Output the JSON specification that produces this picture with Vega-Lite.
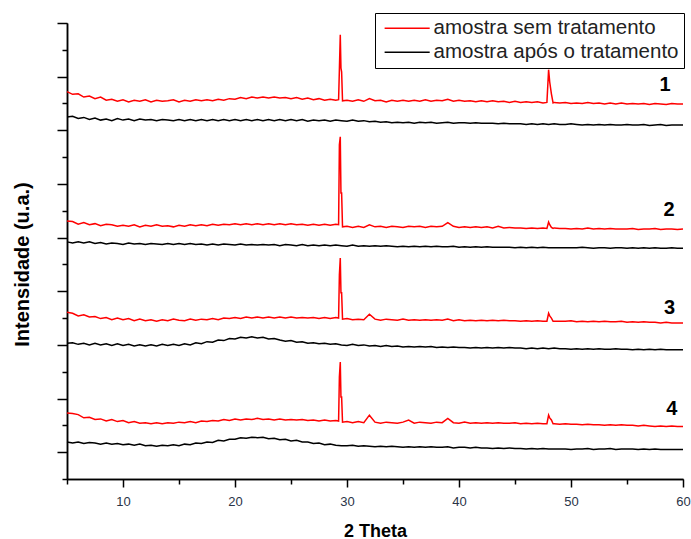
{
 "$schema": "https://vega.github.io/schema/vega-lite/v6.json",
 "width": 616, "height": 456,
 "autosize": {"type": "none"},
 "padding": {"left": 67, "top": 23, "right": 8, "bottom": 60},
 "background": "white",
 "config": {"view": {"stroke": null}, "font": "Liberation Sans"},
 "datasets": {
  "xrd": [
{"x":5,"a":672,"b":625,"c":431,"d":392,"e":261,"f":203,"g":73,"h":19},
{"x":5.5,"a":667,"b":626,"c":430,"d":390,"e":259,"f":204,"g":72,"h":17},
{"x":6,"a":668,"b":622,"c":425,"d":392,"e":254,"f":201,"g":70,"h":19},
{"x":6.5,"a":662,"b":624,"c":428,"d":390,"e":256,"f":203,"g":64,"h":16},
{"x":7,"a":664,"b":620,"c":424,"d":392,"e":252,"f":200,"g":65,"h":18},
{"x":7.5,"a":659,"b":623,"c":426,"d":389,"e":253,"f":203,"g":61,"h":17},
{"x":8,"a":662,"b":619,"c":422,"d":391,"e":249,"f":200,"g":62,"h":15},
{"x":8.5,"a":656,"b":621,"c":425,"d":388,"e":251,"f":202,"g":58,"h":17},
{"x":9,"a":658,"b":618,"c":424,"d":390,"e":247,"f":199,"g":61,"h":15},
{"x":9.5,"a":654,"b":622,"c":421,"d":389,"e":250,"f":202,"g":57,"h":16},
{"x":10,"a":657,"b":619,"c":423,"d":387,"e":247,"f":199,"g":59,"h":14},
{"x":10.5,"a":653,"b":621,"c":421,"d":390,"e":249,"f":201,"g":55,"h":15},
{"x":11,"a":656,"b":618,"c":424,"d":388,"e":245,"f":198,"g":57,"h":13},
{"x":11.5,"a":654,"b":621,"c":420,"d":389,"e":248,"f":200,"g":54,"h":15},
{"x":12,"a":657,"b":619,"c":423,"d":387,"e":245,"f":198,"g":55,"h":12},
{"x":12.5,"a":653,"b":620,"c":421,"d":389,"e":247,"f":200,"g":53,"h":13},
{"x":13,"a":656,"b":618,"c":424,"d":388,"e":244,"f":198,"g":55,"h":11},
{"x":13.5,"a":654,"b":620,"c":421,"d":387,"e":247,"f":201,"g":53,"h":13},
{"x":14,"a":655,"b":619,"c":422,"d":389,"e":245,"f":199,"g":55,"h":12},
{"x":14.5,"a":657,"b":618,"c":420,"d":387,"e":248,"f":201,"g":54,"h":14},
{"x":15,"a":653,"b":620,"c":423,"d":389,"e":246,"f":199,"g":56,"h":12},
{"x":15.5,"a":656,"b":618,"c":421,"d":387,"e":245,"f":202,"g":55,"h":15},
{"x":16,"a":654,"b":620,"c":424,"d":389,"e":248,"f":200,"g":57,"h":14},
{"x":16.5,"a":657,"b":618,"c":422,"d":387,"e":246,"f":204,"g":55,"h":17},
{"x":17,"a":655,"b":620,"c":424,"d":388,"e":248,"f":202,"g":58,"h":16},
{"x":17.5,"a":657,"b":618,"c":422,"d":386,"e":247,"f":206,"g":57,"h":19},
{"x":18,"a":655,"b":620,"c":425,"d":388,"e":249,"f":205,"g":59,"h":18},
{"x":18.5,"a":658,"b":618,"c":423,"d":386,"e":247,"f":209,"g":58,"h":22},
{"x":19,"a":656,"b":620,"c":425,"d":388,"e":250,"f":208,"g":61,"h":21},
{"x":19.5,"a":659,"b":618,"c":424,"d":387,"e":249,"f":212,"g":59,"h":24},
{"x":20,"a":658,"b":620,"c":426,"d":386,"e":251,"f":211,"g":62,"h":24},
{"x":20.5,"a":661,"b":618,"c":424,"d":388,"e":249,"f":214,"g":60,"h":27},
{"x":21,"a":659,"b":620,"c":426,"d":386,"e":252,"f":213,"g":62,"h":26},
{"x":21.5,"a":662,"b":618,"c":424,"d":387,"e":250,"f":215,"g":61,"h":28},
{"x":22,"a":660,"b":620,"c":426,"d":386,"e":252,"f":213,"g":63,"h":27},
{"x":22.5,"a":662,"b":618,"c":424,"d":387,"e":250,"f":214,"g":61,"h":28},
{"x":23,"a":660,"b":620,"c":426,"d":386,"e":252,"f":211,"g":62,"h":25},
{"x":23.5,"a":662,"b":618,"c":424,"d":387,"e":250,"f":212,"g":60,"h":26},
{"x":24,"a":660,"b":620,"c":426,"d":385,"e":252,"f":209,"g":62,"h":23},
{"x":24.5,"a":661,"b":618,"c":424,"d":387,"e":250,"f":207,"g":60,"h":24},
{"x":25,"a":659,"b":620,"c":426,"d":386,"e":252,"f":208,"g":61,"h":21},
{"x":25.5,"a":661,"b":618,"c":424,"d":385,"e":250,"f":205,"g":60,"h":22},
{"x":26,"a":658,"b":620,"c":425,"d":387,"e":251,"f":206,"g":61,"h":19},
{"x":26.5,"a":660,"b":617,"c":423,"d":385,"e":250,"f":203,"g":59,"h":19},
{"x":27,"a":657,"b":619,"c":425,"d":386,"e":251,"f":204,"g":60,"h":16},
{"x":27.5,"a":659,"b":618,"c":423,"d":385,"e":249,"f":202,"g":58,"h":17},
{"x":28,"a":656,"b":619,"c":425,"d":386,"e":251,"f":203,"g":60,"h":14},
{"x":28.5,"a":658,"b":617,"c":423,"d":385,"e":249,"f":201,"g":58,"h":15},
{"x":29,"a":656,"b":619,"c":425,"d":386,"e":251,"f":202,"g":59,"h":13},
{"x":29.25,"a":657,"c":424,"e":250,"g":58},
{"x":29.32,"a":713,"c":573,"e":330,"g":140},
{"x":29.4,"a":778,"c":588,"e":362,"g":168},
{"x":29.46,"a":716,"c":483,"e":297,"g":103},
{"x":29.5,"b":618,"d":385,"f":200,"h":12},
{"x":29.52,"a":709,"c":483,"e":297,"g":103},
{"x":29.6,"a":655,"c":420,"e":248,"g":56},
{"x":30,"a":656,"b":617,"c":421,"d":384,"e":249,"f":199,"g":57,"h":12},
{"x":30.5,"a":654,"b":619,"c":419,"d":386,"e":247,"f":201,"g":55,"h":13},
{"x":31,"a":657,"b":617,"c":421,"d":384,"e":248,"f":199,"g":57,"h":11},
{"x":31.5,"a":654,"b":618,"c":419,"d":385,"e":247,"f":200,"g":55,"h":12},
{"x":32,"a":659,"b":616,"c":424,"d":384,"e":257,"f":198,"g":69,"h":11},
{"x":32.5,"a":655,"b":617,"c":420,"d":385,"e":248,"f":199,"g":56,"h":10},
{"x":33,"a":656,"b":615,"c":421,"d":384,"e":246,"f":197,"g":54,"h":11},
{"x":33.5,"a":653,"b":616,"c":419,"d":385,"e":248,"f":199,"g":56,"h":10},
{"x":34,"a":656,"b":614,"c":421,"d":384,"e":247,"f":197,"g":55,"h":11},
{"x":34.5,"a":654,"b":615,"c":420,"d":383,"e":246,"f":198,"g":54,"h":10},
{"x":35,"a":656,"b":614,"c":419,"d":384,"e":248,"f":196,"g":56,"h":9},
{"x":35.5,"a":654,"b":615,"c":421,"d":383,"e":246,"f":197,"g":60,"h":10},
{"x":36,"a":656,"b":613,"c":420,"d":384,"e":247,"f":196,"g":54,"h":9},
{"x":36.5,"a":654,"b":615,"c":421,"d":383,"e":246,"f":197,"g":56,"h":10},
{"x":37,"a":657,"b":614,"c":419,"d":384,"e":247,"f":196,"g":55,"h":9},
{"x":37.5,"a":654,"b":615,"c":421,"d":383,"e":246,"f":197,"g":54,"h":10},
{"x":38,"a":656,"b":613,"c":420,"d":384,"e":247,"f":195,"g":56,"h":9},
{"x":38.5,"a":655,"b":614,"c":421,"d":383,"e":246,"f":196,"g":55,"h":9},
{"x":39,"a":658,"b":615,"c":428,"d":383,"e":248,"f":195,"g":63,"h":10},
{"x":39.5,"a":654,"b":613,"c":421,"d":384,"e":245,"f":196,"g":55,"h":8},
{"x":40,"a":656,"b":614,"c":419,"d":382,"e":247,"f":195,"g":54,"h":9},
{"x":40.5,"a":654,"b":614,"c":420,"d":383,"e":245,"f":195,"g":56,"h":9},
{"x":41,"a":655,"b":613,"c":419,"d":382,"e":246,"f":194,"g":54,"h":8},
{"x":41.5,"a":653,"b":614,"c":420,"d":383,"e":245,"f":195,"g":55,"h":9},
{"x":42,"a":655,"b":613,"c":419,"d":382,"e":246,"f":194,"g":54,"h":8},
{"x":42.5,"a":653,"b":613,"c":420,"d":383,"e":245,"f":195,"g":55,"h":8},
{"x":43,"a":655,"b":613,"c":418,"d":382,"e":246,"f":194,"g":54,"h":7},
{"x":43.5,"a":653,"b":612,"c":421,"d":382,"e":245,"f":195,"g":55,"h":8},
{"x":44,"a":654,"b":613,"c":418,"d":382,"e":246,"f":194,"g":54,"h":7},
{"x":44.5,"a":652,"b":612,"c":419,"d":382,"e":245,"f":195,"g":54,"h":8},
{"x":45,"a":654,"b":612,"c":418,"d":381,"e":245,"f":194,"g":55,"h":7},
{"x":45.5,"a":652,"b":612,"c":418,"d":382,"e":244,"f":194,"g":53,"h":7},
{"x":46,"a":653,"b":611,"c":417,"d":381,"e":245,"f":193,"g":54,"h":6},
{"x":46.5,"a":652,"b":612,"c":418,"d":382,"e":244,"f":194,"g":53,"h":7},
{"x":47,"a":653,"b":611,"c":417,"d":381,"e":245,"f":193,"g":54,"h":6},
{"x":47.5,"a":651,"b":612,"c":418,"d":382,"e":244,"f":194,"g":53,"h":7},
{"x":47.85,"a":652,"c":417,"e":244,"g":53},
{"x":48,"a":713,"b":611,"c":429,"d":381,"e":259,"f":193,"g":69,"h":6},
{"x":48.1,"a":690,"c":424,"e":254,"g":64},
{"x":48.25,"a":668,"c":419,"e":250,"g":60},
{"x":48.4,"a":651,"c":417,"e":244,"g":53},
{"x":48.5,"a":652,"b":612,"c":418,"d":381,"e":244,"f":194,"g":53,"h":6},
{"x":49,"a":651,"b":611,"c":417,"d":381,"e":244,"f":193,"g":52,"h":6},
{"x":49.5,"a":652,"b":611,"c":417,"d":381,"e":244,"f":193,"g":53,"h":6},
{"x":50,"a":650,"b":612,"c":416,"d":381,"e":245,"f":192,"g":52,"h":5},
{"x":50.5,"a":651,"b":611,"c":417,"d":381,"e":243,"f":193,"g":52,"h":6},
{"x":51,"a":650,"b":610,"c":416,"d":382,"e":244,"f":192,"g":51,"h":6},
{"x":51.5,"a":652,"b":611,"c":418,"d":381,"e":243,"f":193,"g":52,"h":7},
{"x":52,"a":650,"b":610,"c":416,"d":380,"e":244,"f":192,"g":51,"h":5},
{"x":52.5,"a":651,"b":611,"c":417,"d":381,"e":243,"f":193,"g":51,"h":6},
{"x":53,"a":649,"b":610,"c":416,"d":381,"e":244,"f":192,"g":50,"h":6},
{"x":53.5,"a":651,"b":611,"c":417,"d":380,"e":243,"f":192,"g":51,"h":7},
{"x":54,"a":649,"b":610,"c":416,"d":381,"e":243,"f":193,"g":50,"h":5},
{"x":54.5,"a":651,"b":610,"c":416,"d":381,"e":244,"f":192,"g":51,"h":6},
{"x":55,"a":649,"b":611,"c":416,"d":380,"e":242,"f":192,"g":50,"h":6},
{"x":55.5,"a":650,"b":610,"c":417,"d":381,"e":243,"f":191,"g":50,"h":6},
{"x":56,"a":649,"b":610,"c":415,"d":380,"e":242,"f":192,"g":49,"h":5},
{"x":56.5,"a":650,"b":611,"c":416,"d":381,"e":243,"f":191,"g":50,"h":6},
{"x":57,"a":648,"b":609,"c":416,"d":380,"e":242,"f":192,"g":49,"h":5},
{"x":57.5,"a":650,"b":610,"c":417,"d":381,"e":242,"f":191,"g":48,"h":6},
{"x":58,"a":649,"b":611,"c":415,"d":380,"e":241,"f":192,"g":49,"h":5},
{"x":58.5,"a":648,"b":609,"c":416,"d":380,"e":242,"f":191,"g":48,"h":5},
{"x":59,"a":650,"b":610,"c":416,"d":381,"e":241,"f":191,"g":49,"h":5},
{"x":59.5,"a":649,"b":610,"c":415,"d":380,"e":241,"f":191,"g":48,"h":5},
{"x":60,"a":649,"b":610,"c":416,"d":380,"e":241,"f":191,"g":48,"h":5}
  ],
  "labels": [
   {"x": 58.4, "y": 685, "t": "1"},
   {"x": 58.75, "y": 452, "t": "2"},
   {"x": 58.8, "y": 269, "t": "3"},
   {"x": 59.0, "y": 80, "t": "4"}
  ]
 },
 "resolve": {"axis": {"x": "independent", "y": "independent"}},
 "layer": [
  {
   "data": {"name": "xrd"},
   "transform": [
    {"fold": ["a","b","c","d","e","f","g","h"], "as": ["k","v"]},
    {"filter": "isValid(datum.v)"}
   ],
   "mark": {"type": "line", "strokeWidth": 1.5, "invalid": "filter"},
   "encoding": {
    "x": {"field": "x", "type": "quantitative",
     "scale": {"domain": [5, 60], "nice": false, "zero": false},
     "axis": {"orient": "bottom", "values": [10,20,30,40,50,60], "grid": false,
      "title": "2 Theta", "titleFont": "Liberation Sans", "titleFontSize": 18, "titleFontWeight": "bold", "titleColor": "black",
      "titleY": 57, "titleBaseline": "alphabetic",
      "labelFont": "Liberation Sans", "labelFontSize": 13, "labelColor": "#2a3447", "labelPadding": 8,
      "labelFlush": false, "labelOverlap": false,
      "tickSize": 8,
      "tickColor": "black", "domainColor": "black", "tickWidth": 1.5, "domainWidth": 1.5}},
    "y": {"field": "v", "type": "quantitative",
     "scale": {"domain": [-50, 800], "nice": false, "zero": false},
     "axis": {"orient": "left", "values": [0,100,200,300,400,500,600,700,800],
      "labels": false, "grid": false,
      "title": "Intensidade (u.a.)", "titleFont": "Liberation Sans", "titleFontSize": 20, "titleFontWeight": "bold", "titleColor": "black",
      "titleX": -39, "titleY": 241, "titleBaseline": "alphabetic", "titleAngle": -90, "titleAlign": "center",
      "tickSize": 10,
      "tickColor": "black", "domainColor": "black", "tickWidth": 1.5, "domainWidth": 1.5}},
    "color": {"field": "k", "type": "nominal",
     "scale": {"domain": ["a","b","c","d","e","f","g","h"], "range": ["#ff0000","#000000","#ff0000","#000000","#ff0000","#000000","#ff0000","#000000"]},
     "legend": {"orient": "none", "legendX": 308, "legendY": -10, "title": null, "values": ["a","b"],
      "labelExpr": "datum.value == 'a' ? 'amostra sem tratamento' : 'amostra após o tratamento'",
      "symbolType": "M-1,0H7", "symbolSize": 127, "symbolStrokeWidth": 1.5,
      "labelFont": "Liberation Sans", "labelFontSize": 20.5, "labelColor": "#222222", "labelOffset": 33, "labelLimit": 400,
      "padding": 5, "strokeColor": "black", "fillColor": "white", "rowPadding": 3}}
   }
  },
  {
   "data": {"name": "labels"},
   "mark": {"type": "text", "font": "Liberation Sans", "fontSize": 20, "fontWeight": "bold", "align": "center", "baseline": "middle", "color": "black"},
   "encoding": {
    "x": {"field": "x", "type": "quantitative",
     "axis": {"orient": "bottom", "values": [5,15,25,35,45,55], "labels": false, "title": null, "grid": false,
      "tickSize": 5, "tickColor": "black", "domainColor": "black", "tickWidth": 1.5, "domainWidth": 1.5}},
    "y": {"field": "y", "type": "quantitative",
     "axis": {"orient": "left", "values": [-50,50,150,250,350,450,550,650,750], "labels": false, "title": null, "grid": false,
      "tickSize": 5, "tickColor": "black", "domainColor": "black", "tickWidth": 1.5, "domainWidth": 1.5}},
    "text": {"field": "t"}
   }
  }
 ]
}
